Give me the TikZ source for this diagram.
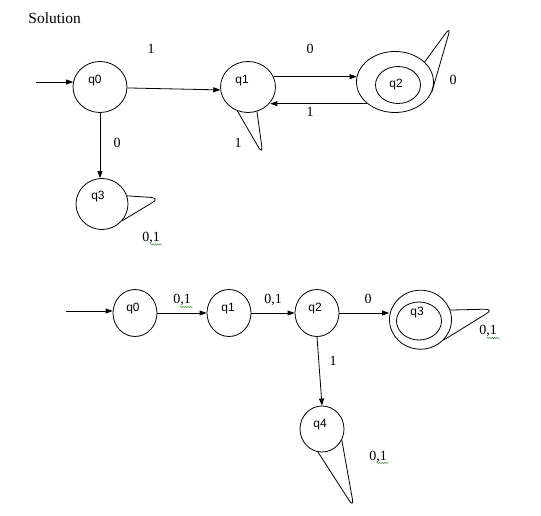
\documentclass[tikz,border=0pt]{standalone}
\usepackage{fontspec}
\setmainfont{Liberation Serif}
\newfontfamily\sansq{Liberation Sans}
\usetikzlibrary{shapes.geometric,arrows.meta,decorations.pathmorphing}
\definecolor{squiggreen}{RGB}{70,150,70}
\tikzset{
  stnode/.style={draw, ellipse, inner sep=0pt},
  qname/.style={font=\sansq\fontsize{12}{14}\selectfont, inner sep=0pt},
  lbl/.style={font=\fontsize{14}{16}\selectfont, inner sep=0pt, text depth=0pt},
  tear/.style={rounded corners=9pt},
  squig/.style={draw=squiggreen, line width=0.5pt, decorate,
    decoration={snake, amplitude=0.7pt, segment length=2.4pt}}
}
\begin{document}
\begin{tikzpicture}[x=1pt, y=-1pt, line width=0.8pt, >={Triangle[length=7pt,width=5pt]}]
	\useasboundingbox (0,0) rectangle (541,516);
	\node[lbl, anchor=west, font=\fontsize{15.5}{18}\selectfont] (title) at (28,18) {Solution};
	% first automaton
	\node[stnode, minimum width=54pt, minimum height=51pt, label={[qname,xshift=-5pt,yshift=6pt]center:q0}] (q0) at (100,87) {};
	\node[stnode, minimum width=55pt, minimum height=51pt, label={[qname,xshift=-6pt,yshift=6pt]center:q1}] (q1) at (248,87) {};
	\node[stnode, minimum width=77pt, minimum height=61pt] (q2) at (395,82) {};
	\node[stnode, minimum width=45pt, minimum height=37pt, label={[qname,xshift=-2pt]center:q2}] (q2i) at (398,85) {};
	\node[stnode, minimum width=52pt, minimum height=51pt, label={[qname,xshift=-4pt,yshift=7pt]center:q3}] (q3) at (102,204) {};
	\coordinate (s0) at (36,82);
	\coordinate (t1) at (263,155);
	\coordinate (t2) at (451,26);
	\coordinate (t3) at (160,198);
	\draw[->] (s0) -- (s0 -| q0.169);
	\draw[->] (q0.358) -- (q1.186);
	\draw[->] (q1.22) -- (q1.22 -| q2.172);
	\draw[->] (q2.218) -- (q2.218 -| q1.325);
	\draw[->] (q0.south) -- (q0.south |- q3.north);
	\draw[tear] (q1.246) -- (t1) -- (q1.290);
	\draw[tear] (q2.34) -- (t2) -- (q2.345);
	\draw[tear] (q3.18) -- (t3) -- (q3.320);
	\node[lbl] (a1) at (151,49) {1};
	\node[lbl] (a2) at (310,49) {0};
	\node[lbl] (a3) at (310,112) {1};
	\node[lbl] (a4) at (453,80) {0};
	\node[lbl] (a5) at (238,143) {1};
	\node[lbl] (a6) at (117,143) {0};
	\node[lbl] (a7) at (151,237) {0,1};
	\draw[squig] (a7) ++(-1,7.5) -- ++(12,0);
	% second automaton
	\node[stnode, minimum width=44pt, minimum height=47pt, label={[qname,xshift=-2pt,yshift=4pt]center:q0}] (p0) at (135,313) {};
	\node[stnode, minimum width=44pt, minimum height=47pt, label={[qname,xshift=-1pt,yshift=4pt]center:q1}] (p1) at (229,313) {};
	\node[stnode, minimum width=44pt, minimum height=47pt, label={[qname,xshift=-2pt,yshift=4pt]center:q2}] (p2) at (317,313) {};
	\node[stnode, minimum width=62pt, minimum height=59pt] (p3) at (420.5,319.7) {};
	\node[stnode, minimum width=45pt, minimum height=38pt, label={[qname,xshift=-2pt,yshift=8pt]center:q3}] (p3i) at (419,321) {};
	\node[stnode, minimum width=44pt, minimum height=46pt, label={[qname,xshift=-2pt,yshift=4pt]center:q4}] (p4) at (322,429) {};
	\coordinate (s1) at (66,311);
	\coordinate (t4) at (494,309);
	\coordinate (t5) at (354,508);
	\draw[->] (s1) -- (s1 -| p0.west);
	\draw[->] (p0.east) -- (p1.west);
	\draw[->] (p1.east) -- (p2.west);
	\draw[->] (p2.east) -- (p2.east -| p3.west);
	\draw[->] (p2.south) -- (p4.north);
	\draw[tear] (p3.18) -- (t4) -- (p3.318);
	\draw[tear] (p4.260) -- (t5) -- (p4.331);
	\node[lbl] (b1) at (182,299) {0,1};
	\node[lbl] (b2) at (273,299) {0,1};
	\node[lbl] (b3) at (368,299) {0};
	\node[lbl] (b4) at (333,361) {1};
	\node[lbl] (b5) at (488,330) {0,1};
	\node[lbl] (b6) at (378,456) {0,1};
	\draw[squig] (b1) ++(-2,8) -- ++(12.7,0);
	\draw[squig] (b5) ++(-1.3,8) -- ++(12.6,0);
	\draw[squig] (b6) ++(-1.3,7) -- ++(11.6,0);
\end{tikzpicture}
\end{document}
